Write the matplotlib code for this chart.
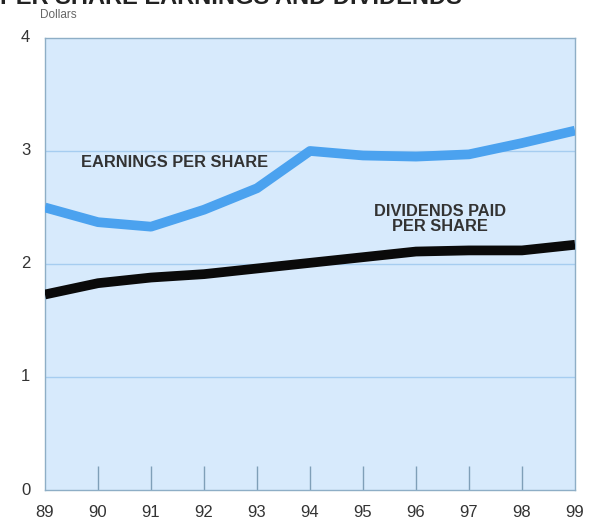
import numpy as np
import matplotlib.pyplot as plt

years = [89, 90, 91, 92, 93, 94, 95, 96, 97, 98, 99]
year_labels = [str(y) for y in years]
earnings = [2.50, 2.37, 2.33, 2.48, 2.67, 3.00, 2.96, 2.95, 2.97, 3.07, 3.18]
dividends = [1.73, 1.83, 1.88, 1.91, 1.96, 2.01, 2.06, 2.11, 2.12, 2.12, 2.17]

plt.rcParams['font.family'] = ['Liberation Sans', 'DejaVu Sans']

fig = plt.figure(figsize=(5.95, 5.27), dpi=100)
ax = fig.add_axes([0.0756, 0.0702, 0.8908, 0.8578])
ax.set_facecolor('#d7eafc')

for v in [1, 2, 3]:
    ax.axhline(v, color='#a6cdf0', lw=1.0, zorder=1)

ax.plot(years, earnings, color='#4ba2ef', lw=7, solid_capstyle='butt', zorder=3)
ax.plot(years, dividends, color='#0a0a0a', lw=7, solid_capstyle='butt', zorder=3)

ax.set_xlim(89, 99)
ax.set_ylim(0, 4)
for s in ax.spines.values():
    s.set_color('#8eaec6')
    s.set_linewidth(1.0)

# inner ticks along the bottom, labels set by hand below
ax.set_xticks(years[1:-1])
ax.set_xticklabels([])
ax.tick_params(axis='x', direction='in', length=17, width=1.0, color='#7f9fb8')
ax.set_yticks([])

for y, lab in zip(years, year_labels):
    ax.text(y, -0.13, lab, ha='center', va='top', fontsize=12, color='#333333')
for v in range(5):
    ax.text(88.72, v, str(v), ha='right', va='center', fontsize=12, color='#333333')

ax.text(91.45, 2.9, 'EARNINGS PER SHARE', ha='center', va='center',
        fontsize=11.8, fontweight='bold', color='#333333')
ax.text(96.45, 2.4, 'DIVIDENDS PAID\nPER SHARE', ha='center', va='center',
        fontsize=11.8, fontweight='bold', color='#333333', linespacing=1.0)

# title sits at the very top edge of the page
fig.text(0.068, 0.972, 'Dollars', ha='left', va='center', fontsize=8.5, color='#666666')
fig.text(0.0, 1.004, 'PER SHARE EARNINGS AND DIVIDENDS', ha='left', va='center',
         fontsize=17, fontweight='bold', color='#222222')

fig.savefig('out.png', dpi=100, facecolor='white')
